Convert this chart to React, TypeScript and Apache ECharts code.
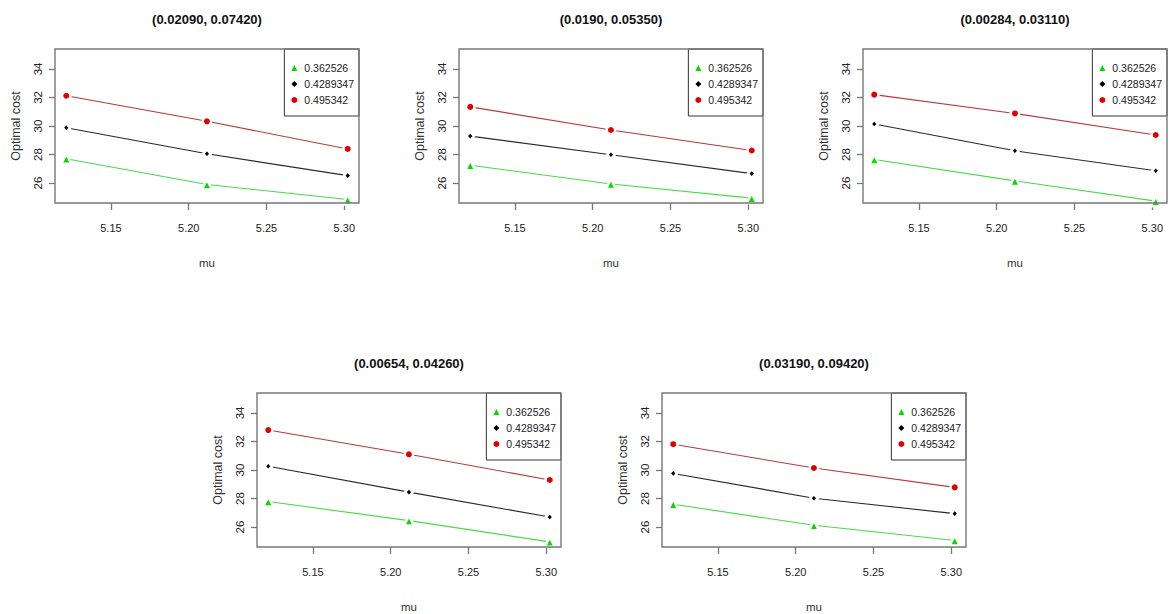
import React, { useEffect, useRef } from "react";
import * as echarts from "echarts";

const mu = [5.1213, 5.2117, 5.3022];
const xTicks = [5.15, 5.2, 5.25, 5.3];
const yTicks = [26, 28, 30, 32, 34];
const yLim = [25, 35];
const seriesNames = ["0.362526", "0.4289347", "0.495342"];
const titles = [
  "(0.02090, 0.07420)",
  "(0.0190, 0.05350)",
  "(0.00284, 0.03110)",
  "(0.00654, 0.04260)",
  "(0.03190, 0.09420)",
];

const p1Green = [27.7, 25.9, 24.84];
const p1Black = [29.88, 28.05, 26.52];
const p1Red = [32.12, 30.33, 28.39];
const p2Green = [27.25, 25.93, 24.94];
const p2Black = [29.29, 27.98, 26.66];
const p2Red = [31.34, 29.72, 28.28];
const p3Green = [27.65, 26.15, 24.73];
const p3Black = [30.14, 28.26, 26.86];
const p3Red = [32.2, 30.88, 29.37];
const p4Green = [27.79, 26.45, 24.96];
const p4Black = [30.26, 28.45, 26.7];
const p4Red = [32.8, 31.1, 29.3];
const p5Green = [27.6, 26.12, 25.06];
const p5Black = [29.76, 28.02, 26.94];
const p5Red = [31.81, 30.14, 28.78];

const panelData = [
  [p1Green, p1Black, p1Red],
  [p2Green, p2Black, p2Red],
  [p3Green, p3Black, p3Red],
  [p4Green, p4Black, p4Red],
  [p5Green, p5Black, p5Red],
];

const W = 1169;
const H = 614;
const panelPos = [
  [55, 49],
  [459, 49],
  [863, 49],
  [257, 393],
  [662, 393],
];
const PW = 304;
const PH = 154;

const FONT = "'Liberation Sans', Arial, sans-serif";
const BW = 2.5;

const styles = [
  { line: "#4ada4a", point: "#00dd00", symbol: "triangle", size: 7.5 + BW, legendIcon: "triangle" },
  { line: "#2a2a2a", point: "#000000", symbol: "diamond", size: [5 + BW, 6 + BW], legendIcon: "diamond" },
  { line: "#b83a3a", point: "#e00000", symbol: "circle", size: 6 + BW, legendIcon: "circle" },
];

export default function App() {
  const ref = useRef<HTMLDivElement>(null);
  useEffect(() => {
    if (!ref.current) return;
    const chart = echarts.init(ref.current, null, { renderer: "svg" });
    const xr = mu[mu.length - 1] - mu[0];
    const xMin = mu[0] - 0.04 * xr;
    const xMax = mu[mu.length - 1] + 0.04 * xr;
    const yr = yLim[1] - yLim[0];
    const yMin = yLim[0] - 0.04 * yr;
    const yMax = yLim[1] + 0.04 * yr;

    const grids: any[] = [];
    const xAxes: any[] = [];
    const yAxes: any[] = [];
    const series: any[] = [];
    const legends: any[] = [];
    const graphics: any[] = [];

    panelPos.forEach(([l, t], i) => {
      grids.push({ left: l, top: t, width: PW, height: PH, show: false });
      xAxes.push({
        gridIndex: i,
        type: "value",
        min: xMin,
        max: xMax,
        name: "mu",
        nameLocation: "middle",
        nameGap: 54,
        nameTextStyle: { fontFamily: FONT, fontSize: 11.5, color: "#333" },
        axisLine: { show: false },
        splitLine: { show: false },
        axisTick: { show: true, inside: false, length: 7, customValues: xTicks, lineStyle: { color: "#777", width: 1.3 } },
        axisLabel: {
          customValues: xTicks,
          margin: 19,
          fontFamily: FONT,
          fontSize: 11,
          color: "#222",
          formatter: (v: number) => v.toFixed(2),
        },
      });
      yAxes.push({
        gridIndex: i,
        type: "value",
        min: yMin,
        max: yMax,
        name: "Optimal cost",
        nameLocation: "middle",
        nameGap: 33,
        nameTextStyle: { fontFamily: FONT, fontSize: 12.5, color: "#333" },
        axisLine: { show: false },
        splitLine: { show: false },
        axisTick: { show: true, inside: false, length: 6, customValues: yTicks, lineStyle: { color: "#777", width: 1.3 } },
        axisLabel: {
          customValues: yTicks,
          rotate: 90,
          margin: 11,
          fontFamily: FONT,
          fontSize: 11.5,
          color: "#222",
        },
      });
      panelData[i].forEach((vals, k) => {
        const st = styles[k];
        series.push({
          name: seriesNames[k],
          type: "line",
          xAxisIndex: i,
          yAxisIndex: i,
          data: mu.map((x, j) => [x, vals[j]]),
          symbol: st.symbol,
          symbolSize: st.size,
          showSymbol: true,
          lineStyle: { color: st.line, width: 1.1 },
          itemStyle: { color: st.point, borderColor: "#ffffff", borderWidth: BW },
          emphasis: { disabled: true },
          z: 2,
        });
      });
      legends.push({
        orient: "vertical",
        right: W - (l + PW),
        top: t,
        padding: [12, 5, 9, 7],
        itemWidth: 6,
        itemHeight: 6,
        itemGap: 2,
        backgroundColor: "#ffffff",
        borderColor: "#333",
        borderWidth: 1,
        selectedMode: false,
        itemStyle: { borderWidth: 0 },
        textStyle: { fontFamily: FONT, fontSize: 10.5, color: "#222", lineHeight: 14, padding: [0, 0, 0, 2] },
        data: seriesNames.map((n, k) => ({ name: n, icon: styles[k].legendIcon })),
        z: 5,
      });
      graphics.push({
        type: "rect",
        shape: { x: l, y: t, width: PW, height: PH },
        style: { fill: "none", stroke: "#777", lineWidth: 1.4 },
        z: 10,
        silent: true,
      });
      graphics.push({
        type: "text",
        x: l + PW / 2,
        y: t - 30,
        style: {
          text: titles[i],
          fontFamily: FONT,
          fontWeight: "bold",
          fontSize: 13,
          fill: "#111",
          textAlign: "center",
          textVerticalAlign: "middle",
        },
        z: 10,
      });
    });

    chart.setOption({
      animation: false,
      backgroundColor: "#ffffff",
      grid: grids,
      xAxis: xAxes,
      yAxis: yAxes,
      legend: legends,
      series,
      graphic: graphics,
    });
    return () => chart.dispose();
  }, []);
  return (
    <div
      ref={ref}
      style={{ position: "fixed", left: 0, top: 0, width: W, height: H, background: "#fff" }}
    />
  );
}
